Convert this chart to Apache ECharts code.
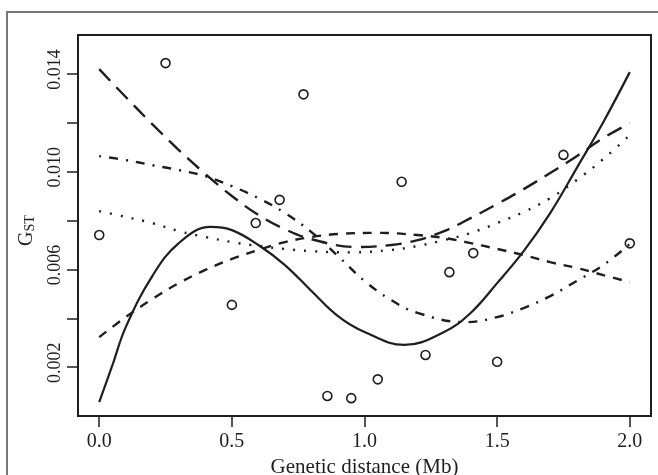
<!DOCTYPE html>
<html>
<head>
<meta charset="utf-8">
<title>GST vs genetic distance</title>
<script src="https://cdn.jsdelivr.net/npm/echarts@6.0.0/dist/echarts.min.js"></script>
<style>
    html, body { margin: 0; padding: 0; background: #fff; }
    #chart { width: 658px; height: 475px; }
</style>
</head>
<body>
<div id="chart"></div>
<script>
// 观测点（遗传距离 Mb, GST）
var pointX = [0, 0.25, 0.5, 0.59, 0.68, 0.77, 0.86, 0.95, 1.05, 1.14, 1.23, 1.32, 1.41, 1.5, 1.75, 2.0];
var pointY = [0.00741, 0.01445, 0.00455, 0.00790, 0.00885, 0.01317, 0.00082, 0.00073, 0.00150,
              0.00959, 0.00250, 0.00589, 0.00667, 0.00222, 0.01069, 0.00707];

// 拟合曲线：每条曲线自己的取样位置（包含极值点）
var solidX = [0, 0.05, 0.1, 0.2, 0.3, 0.42, 0.5, 0.6, 0.7, 0.8, 0.9, 1.0, 1.15, 1.3, 1.4, 1.5, 1.6, 1.7, 1.8, 1.9, 2.0];
var solidY = [0.00057, 0.00209, 0.00364, 0.00573, 0.00708, 0.00774, 0.00761, 0.00700, 0.00618, 0.00512, 0.00409,
              0.00344, 0.00291, 0.00344, 0.00422, 0.00544, 0.00675, 0.00831, 0.01015, 0.01203, 0.01408];

var longDashX = [0, 0.1, 0.2, 0.3, 0.4, 0.5, 0.6, 0.7, 0.8, 0.97, 1.1, 1.2, 1.3, 1.4, 1.5, 1.6, 1.7, 1.8, 1.9, 2.0];
var longDashY = [0.01420, 0.01306, 0.01195, 0.01089, 0.00991, 0.00901, 0.00823, 0.00765, 0.00724, 0.00692,
                 0.00700, 0.00720, 0.00757, 0.00810, 0.00868, 0.00929, 0.00995, 0.01064, 0.01138, 0.01199];

var shortDashX = [0, 0.1, 0.2, 0.3, 0.4, 0.5, 0.6, 0.7, 0.8, 0.9, 1.05, 1.2, 1.3, 1.4, 1.5, 1.6, 1.7, 1.8, 1.9, 2.0];
var shortDashY = [0.00323, 0.00405, 0.00479, 0.00544, 0.00598, 0.00643, 0.00680, 0.00712, 0.00733, 0.00745,
                  0.00750, 0.00741, 0.00729, 0.00708, 0.00684, 0.00659, 0.00630, 0.00606, 0.00577, 0.00548];

var dottedX = [0, 0.1, 0.2, 0.3, 0.4, 0.5, 0.6, 0.7, 0.8, 0.95, 1.1, 1.2, 1.3, 1.4, 1.5, 1.6, 1.7, 1.8, 1.9, 2.0];
var dottedY = [0.00839, 0.00815, 0.00790, 0.00757, 0.00733, 0.00712, 0.00696, 0.00684, 0.00675, 0.00670,
               0.00680, 0.00696, 0.00720, 0.00749, 0.00790, 0.00835, 0.00892, 0.00966, 0.01052, 0.01150];

var dotDashX = [0, 0.1, 0.2, 0.3, 0.4, 0.5, 0.6, 0.7, 0.8, 0.9, 1.0, 1.1, 1.2, 1.38, 1.5, 1.6, 1.7, 1.8, 1.9, 2.0];
var dotDashY = [0.01064, 0.01048, 0.01027, 0.01007, 0.00982, 0.00941, 0.00892, 0.00831, 0.00753, 0.00655,
                0.00553, 0.00475, 0.00422, 0.00384, 0.00405, 0.00442, 0.00491, 0.00553, 0.00618, 0.00704];

// 刻度
var xTicks = [0, 0.5, 1.0, 1.5, 2.0];
var yTicks = [0.002, 0.004, 0.006, 0.008, 0.010, 0.012, 0.014];
var yLabels = [0.002, 0.006, 0.010, 0.014];

(function () {
    'use strict';

    var INK = '#1e1e1e';
    var FONT = '"Liberation Serif", "DejaVu Serif", serif';

    function zip(xs, ys) {
        return xs.map(function (x, i) { return [x, ys[i]]; });
    }

    function curve(name, xs, ys, dash, width) {
        return {
            name: name,
            type: 'line',
            data: zip(xs, ys),
            smooth: 0.4,
            showSymbol: false,
            silent: true,
            lineStyle: { color: INK, width: width, type: dash }
        };
    }

    var chart = echarts.init(document.getElementById('chart'), null, { renderer: 'canvas' });

    chart.setOption({
        animation: false,
        backgroundColor: '#fff',
        graphic: [{
            // 外框
            type: 'rect',
            shape: { x: 7, y: 12, width: 700, height: 520 },
            style: { fill: 'none', stroke: '#777', lineWidth: 2 },
            silent: true
        }],
        grid: {
            left: 78, right: 7, top: 35, bottom: 59,
            outerBoundsMode: 'none',
            containLabel: false,
            show: true, borderColor: INK, borderWidth: 2, backgroundColor: 'transparent'
        },
        xAxis: {
            type: 'value',
            min: -0.08, max: 2.08,
            name: 'Genetic distance (Mb)',
            nameLocation: 'middle',
            nameGap: 37,
            nameTextStyle: { fontFamily: FONT, fontSize: 21, color: INK },
            axisLine: { show: true, onZero: false, lineStyle: { color: INK, width: 2 } },
            splitLine: { show: false },
            axisTick: {
                show: true, length: 11, inside: false,
                customValues: xTicks,
                lineStyle: { color: INK, width: 1.5 }
            },
            axisLabel: {
                customValues: xTicks,
                margin: 16,
                fontFamily: FONT, fontSize: 20, color: INK,
                formatter: function (v) { return v.toFixed(1); }
            }
        },
        yAxis: {
            type: 'value',
            min: 0, max: 0.0156,
            name: '{g|G}{s|ST}',
            nameLocation: 'middle',
            nameRotate: 90,
            nameGap: 41,
            nameTextStyle: {
                fontFamily: FONT, color: INK,
                padding: [0, 10, 0, 0],
                rich: {
                    g: { fontFamily: FONT, fontSize: 20, lineHeight: 20, verticalAlign: 'top', color: INK },
                    s: { fontFamily: FONT, fontSize: 14, lineHeight: 14, verticalAlign: 'bottom',
                         padding: [10, 0, 0, 0], color: INK }
                }
            },
            axisLine: { show: true, onZero: false, lineStyle: { color: INK, width: 2 } },
            splitLine: { show: false },
            axisTick: {
                show: true, length: 11, inside: false,
                customValues: yTicks,
                lineStyle: { color: INK, width: 1.5 }
            },
            axisLabel: {
                customValues: yLabels,
                rotate: 90,
                margin: 14,
                padding: [0, 0, 0, 9],
                fontFamily: FONT, fontSize: 18, color: INK,
                formatter: function (v) { return v.toFixed(3); }
            }
        },
        series: [
            curve('solid', solidX, solidY, 'solid', 2.2),
            curve('longdash', longDashX, longDashY, [16, 9], 2.4),
            curve('dashed', shortDashX, shortDashY, [9, 8], 2.4),
            curve('dotted', dottedX, dottedY, [2, 9], 2.4),
            curve('dotdash', dotDashX, dotDashY, [2, 8, 9, 8], 2.4),
            {
                name: 'points',
                type: 'scatter',
                data: zip(pointX, pointY),
                symbol: 'circle',
                symbolSize: 9,
                itemStyle: { color: 'rgba(255,255,255,0)', borderColor: INK, borderWidth: 1.6, opacity: 1 },
                silent: true,
                z: 5
            }
        ]
    });
})();
</script>
</body>
</html>
